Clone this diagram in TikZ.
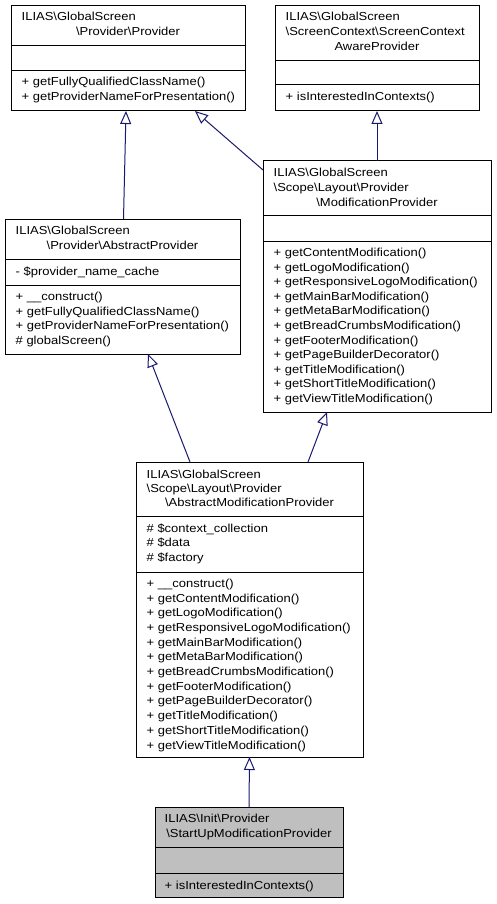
\documentclass[tikz,border=0pt]{standalone}
\usepackage{fontspec}
\setmainfont[FakeStretch=1.12]{Liberation Sans}
\usetikzlibrary{arrows.meta}
\definecolor{edgeblue}{HTML}{191970}
\definecolor{hlgray}{HTML}{BFBFBF}
\newcommand\umlfont{\fontsize{11.6pt}{14.7pt}\selectfont}
\newcommand\myBS{\textbackslash}
\begin{document}
\begin{tikzpicture}[x=1pt,y=-1pt,
  cls/.style={draw=black, line width=1pt, inner sep=0pt, outer sep=0pt, anchor=north west},
  sepline/.style={draw=black, line width=1pt},
  txt/.style={inner sep=0pt, anchor=base west, font=\umlfont},
  ctxt/.style={inner sep=0pt, anchor=base, font=\umlfont},
  inh/.style={draw=edgeblue, line width=1pt, -{Triangle[open, length=13pt, width=11pt, fill=white]}}
]
\useasboundingbox (0,0) rectangle (496,904);
\fill[white] (0,0) rectangle (496,904);

% ---------- Provider ----------
\node[cls, fill=white, minimum width=234pt, minimum height=105pt] (p) at (11,6) {};
\draw[sepline] (11,46) -- (245,46);
\draw[sepline] (11,71) -- (245,71);
\node[txt] (p-t1) at (21.5,20.7) {ILIAS\myBS GlobalScreen};
\node[ctxt] (p-t2) at (128,35.7) {\myBS Provider\myBS Provider};
\foreach \t [count=\i] in {+ getFullyQualifiedClassName(), + getProviderNameForPresentation()}
  \node[txt] (p-m\i) at (21.5,{85.7+14.7*(\i-1)}) {\t};

% ---------- ScreenContextAwareProvider ----------
\node[cls, fill=white, minimum width=204pt, minimum height=105pt] (sc) at (275,6) {};
\draw[sepline] (275,61) -- (479,61);
\draw[sepline] (275,85) -- (479,85);
\node[txt] (sc-t1) at (285.5,20.7) {ILIAS\myBS GlobalScreen};
\node[txt] (sc-t2) at (285.5,35.5) {\myBS ScreenContext\myBS ScreenContext};
\node[ctxt] (sc-t3) at (377,50.3) {AwareProvider};
\node[txt] (sc-m1) at (285.5,101) {+ isInterestedInContexts()};

% ---------- ModificationProvider ----------
\node[cls, fill=white, minimum width=228pt, minimum height=251pt] (mp) at (263,161) {};
\draw[sepline] (263,215) -- (491,215);
\draw[sepline] (263,241) -- (491,241);
\node[txt] (mp-t1) at (273.5,176.7) {ILIAS\myBS GlobalScreen};
\node[txt] (mp-t2) at (273.5,191.5) {\myBS Scope\myBS Layout\myBS Provider};
\node[ctxt] (mp-t3) at (377,206.2) {\myBS ModificationProvider};
\foreach \t [count=\i] in {+ getContentModification(), + getLogoModification(), + getResponsiveLogoModification(), + getMainBarModification(), + getMetaBarModification(), + getBreadCrumbsModification(), + getFooterModification(), + getPageBuilderDecorator(), + getTitleModification(), + getShortTitleModification(), + getViewTitleModification()}
  \node[txt] (mp-m\i) at (273.5,{256.7+14.56*(\i-1)}) {\t};

% ---------- AbstractProvider ----------
\node[cls, fill=white, minimum width=235pt, minimum height=135pt] (ap) at (5,219) {};
\draw[sepline] (5,259) -- (240,259);
\draw[sepline] (5,285) -- (240,285);
\node[txt] (ap-t1) at (15.5,234.7) {ILIAS\myBS GlobalScreen};
\node[ctxt] (ap-t2) at (122.5,249.2) {\myBS Provider\myBS AbstractProvider};
\node[txt] (ap-f1) at (15.5,275) {- \$provider\_name\_cache};
\foreach \t [count=\i] in {+ \_\_construct(), + getFullyQualifiedClassName(), + getProviderNameForPresentation(), \# globalScreen()}
  \node[txt] (ap-m\i) at (15.5,{300.7+14.53*(\i-1)}) {\t};

% ---------- AbstractModificationProvider ----------
\node[cls, fill=white, minimum width=227pt, minimum height=295pt] (amp) at (136,462) {};
\draw[sepline] (136,516) -- (363,516);
\draw[sepline] (136,572) -- (363,572);
\node[txt] (amp-t1) at (146.5,478) {ILIAS\myBS GlobalScreen};
\node[txt] (amp-t2) at (146.5,492.5) {\myBS Scope\myBS Layout\myBS Provider};
\node[ctxt] (amp-t3) at (249.5,506.9) {\myBS AbstractModificationProvider};
\foreach \t [count=\i] in {\# \$context\_collection, \# \$data, \# \$factory}
  \node[txt] (amp-f\i) at (146.5,{532.3+14.5*(\i-1)}) {\t};
\foreach \t [count=\i] in {+ \_\_construct(), + getContentModification(), + getLogoModification(), + getResponsiveLogoModification(), + getMainBarModification(), + getMetaBarModification(), + getBreadCrumbsModification(), + getFooterModification(), + getPageBuilderDecorator(), + getTitleModification(), + getShortTitleModification(), + getViewTitleModification()}
  \node[txt] (amp-m\i) at (146.5,{587.3+14.7*(\i-1)}) {\t};

% ---------- StartUpModificationProvider ----------
\node[cls, fill=hlgray, minimum width=188pt, minimum height=90pt] (su) at (155,807) {};
\draw[sepline] (155,847) -- (343,847);
\draw[sepline] (155,873) -- (343,873);
\node[txt] (su-t1) at (164.5,822.3) {ILIAS\myBS Init\myBS Provider};
\node[ctxt] (su-t2) at (249,837.1) {\myBS StartUpModificationProvider};
\node[txt] (su-m1) at (164.5,889) {+ isInterestedInContexts()};

% ---------- Inheritance edges ----------
\draw[inh] ([xshift=1pt]ap.north) -- ([xshift=-2pt]p.south);
\draw[inh] ([yshift=-9pt]mp.north west) -- ([xshift=-50pt]p.south east);
\draw[inh] (mp.north) -- (sc.south);
\draw[inh] ([xshift=54pt]amp.north west) -- ([xshift=143pt]ap.south west);
\draw[inh] ([xshift=172pt]amp.north west) -- ([xshift=64pt]mp.south west);
\draw[inh] (su.north) -- (amp.south);
\end{tikzpicture}
\end{document}
